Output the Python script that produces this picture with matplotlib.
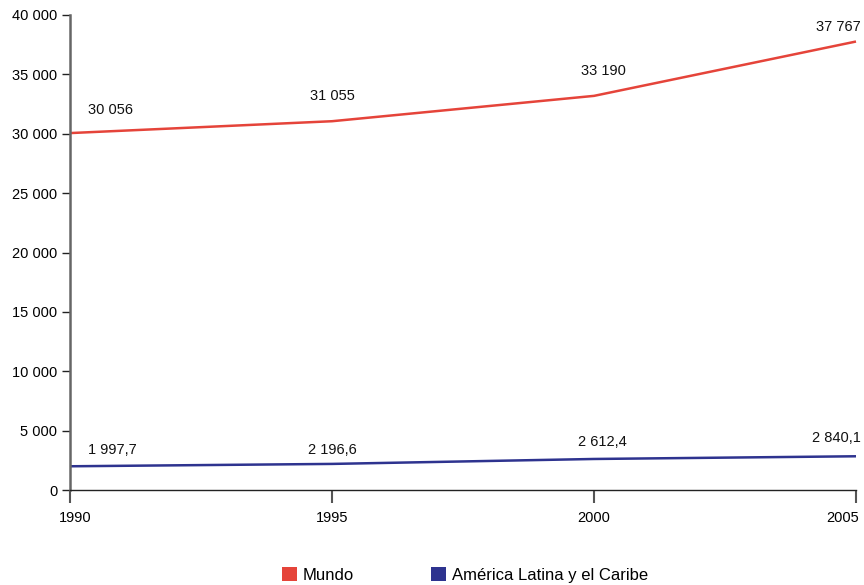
import matplotlib
matplotlib.use("Agg")
import matplotlib.pyplot as plt
import matplotlib.transforms as mtransforms
from matplotlib.patches import Patch
from matplotlib.ticker import FuncFormatter

plt.rcParams['font.family'] = ['Liberation Sans', 'DejaVu Sans']

years = [1990, 1995, 2000, 2005]
mundo = [30056, 31055, 33190, 37767]
alc = [1997.7, 2196.6, 2612.4, 2840.1]
mundo_labels = ["30 056", "31 055", "33 190", "37 767"]
alc_labels = ["1 997,7", "2 196,6", "2 612,4", "2 840,1"]
series_names = ["Mundo", "América Latina y el Caribe"]
yticks = [0, 5000, 10000, 15000, 20000, 25000, 30000, 35000, 40000]

red = "#e5443a"
blue = "#2e338f"

fig = plt.figure(figsize=(8.64, 5.85), dpi=100)
ax = fig.add_axes([70/864, 1-490/585, 786/864, 475/585])

ax.plot(years, mundo, color=red, lw=1.8, solid_capstyle='butt', clip_on=False)
ax.plot(years, alc, color=blue, lw=1.8, solid_capstyle='butt', clip_on=False)

ax.set_xlim(1990, 2005)
ax.set_ylim(0, 40000)
ax.set_yticks(yticks)
ax.set_xticks(years)
ax.yaxis.set_major_formatter(FuncFormatter(lambda v, p: f"{int(v):,}".replace(",", " ")))

for s in ['top', 'right']:
    ax.spines[s].set_visible(False)
ax.spines['left'].set_color('#666666')
ax.spines['left'].set_linewidth(1.8)
ax.spines['bottom'].set_color('#222222')
ax.spines['bottom'].set_linewidth(1.0)
ax.tick_params(axis='y', length=6, width=1, color='#222222', labelsize=10.5, pad=3)
ax.tick_params(axis='x', length=9, width=1.5, color='#555555', labelsize=10.5, pad=6)

fig.canvas.draw()
labels = ax.get_xticklabels()
labels[0].set_transform(labels[0].get_transform() + mtransforms.ScaledTranslation(5/100, 0, fig.dpi_scale_trans))
labels[-1].set_ha('right')
labels[-1].set_transform(labels[-1].get_transform() + mtransforms.ScaledTranslation(3/100, 0, fig.dpi_scale_trans))

m_off = [(40, 23), (0, 25), (9, 25), (-18, 15)]
a_off = [(42, 16), (0, 14), (8, 17), (-20, 18)]
for x, y, t, o in zip(years, mundo, mundo_labels, m_off):
    ax.annotate(t, (x, y), xytext=o, textcoords='offset pixels', ha='center', va='center', fontsize=10.5, color='#111111')
for x, y, t, o in zip(years, alc, alc_labels, a_off):
    ax.annotate(t, (x, y), xytext=o, textcoords='offset pixels', ha='center', va='center', fontsize=10.5, color='#111111')

handles = [Patch(facecolor=red, edgecolor='none'), Patch(facecolor=blue, edgecolor='none')]
fig.legend(handles, series_names, loc='lower center', bbox_to_anchor=(0.538, -0.022), ncol=2,
           frameon=False, fontsize=12, handlelength=0.9, handleheight=0.9, handletextpad=0.35,
           columnspacing=4.6)

fig.savefig("out.png", dpi=100)
